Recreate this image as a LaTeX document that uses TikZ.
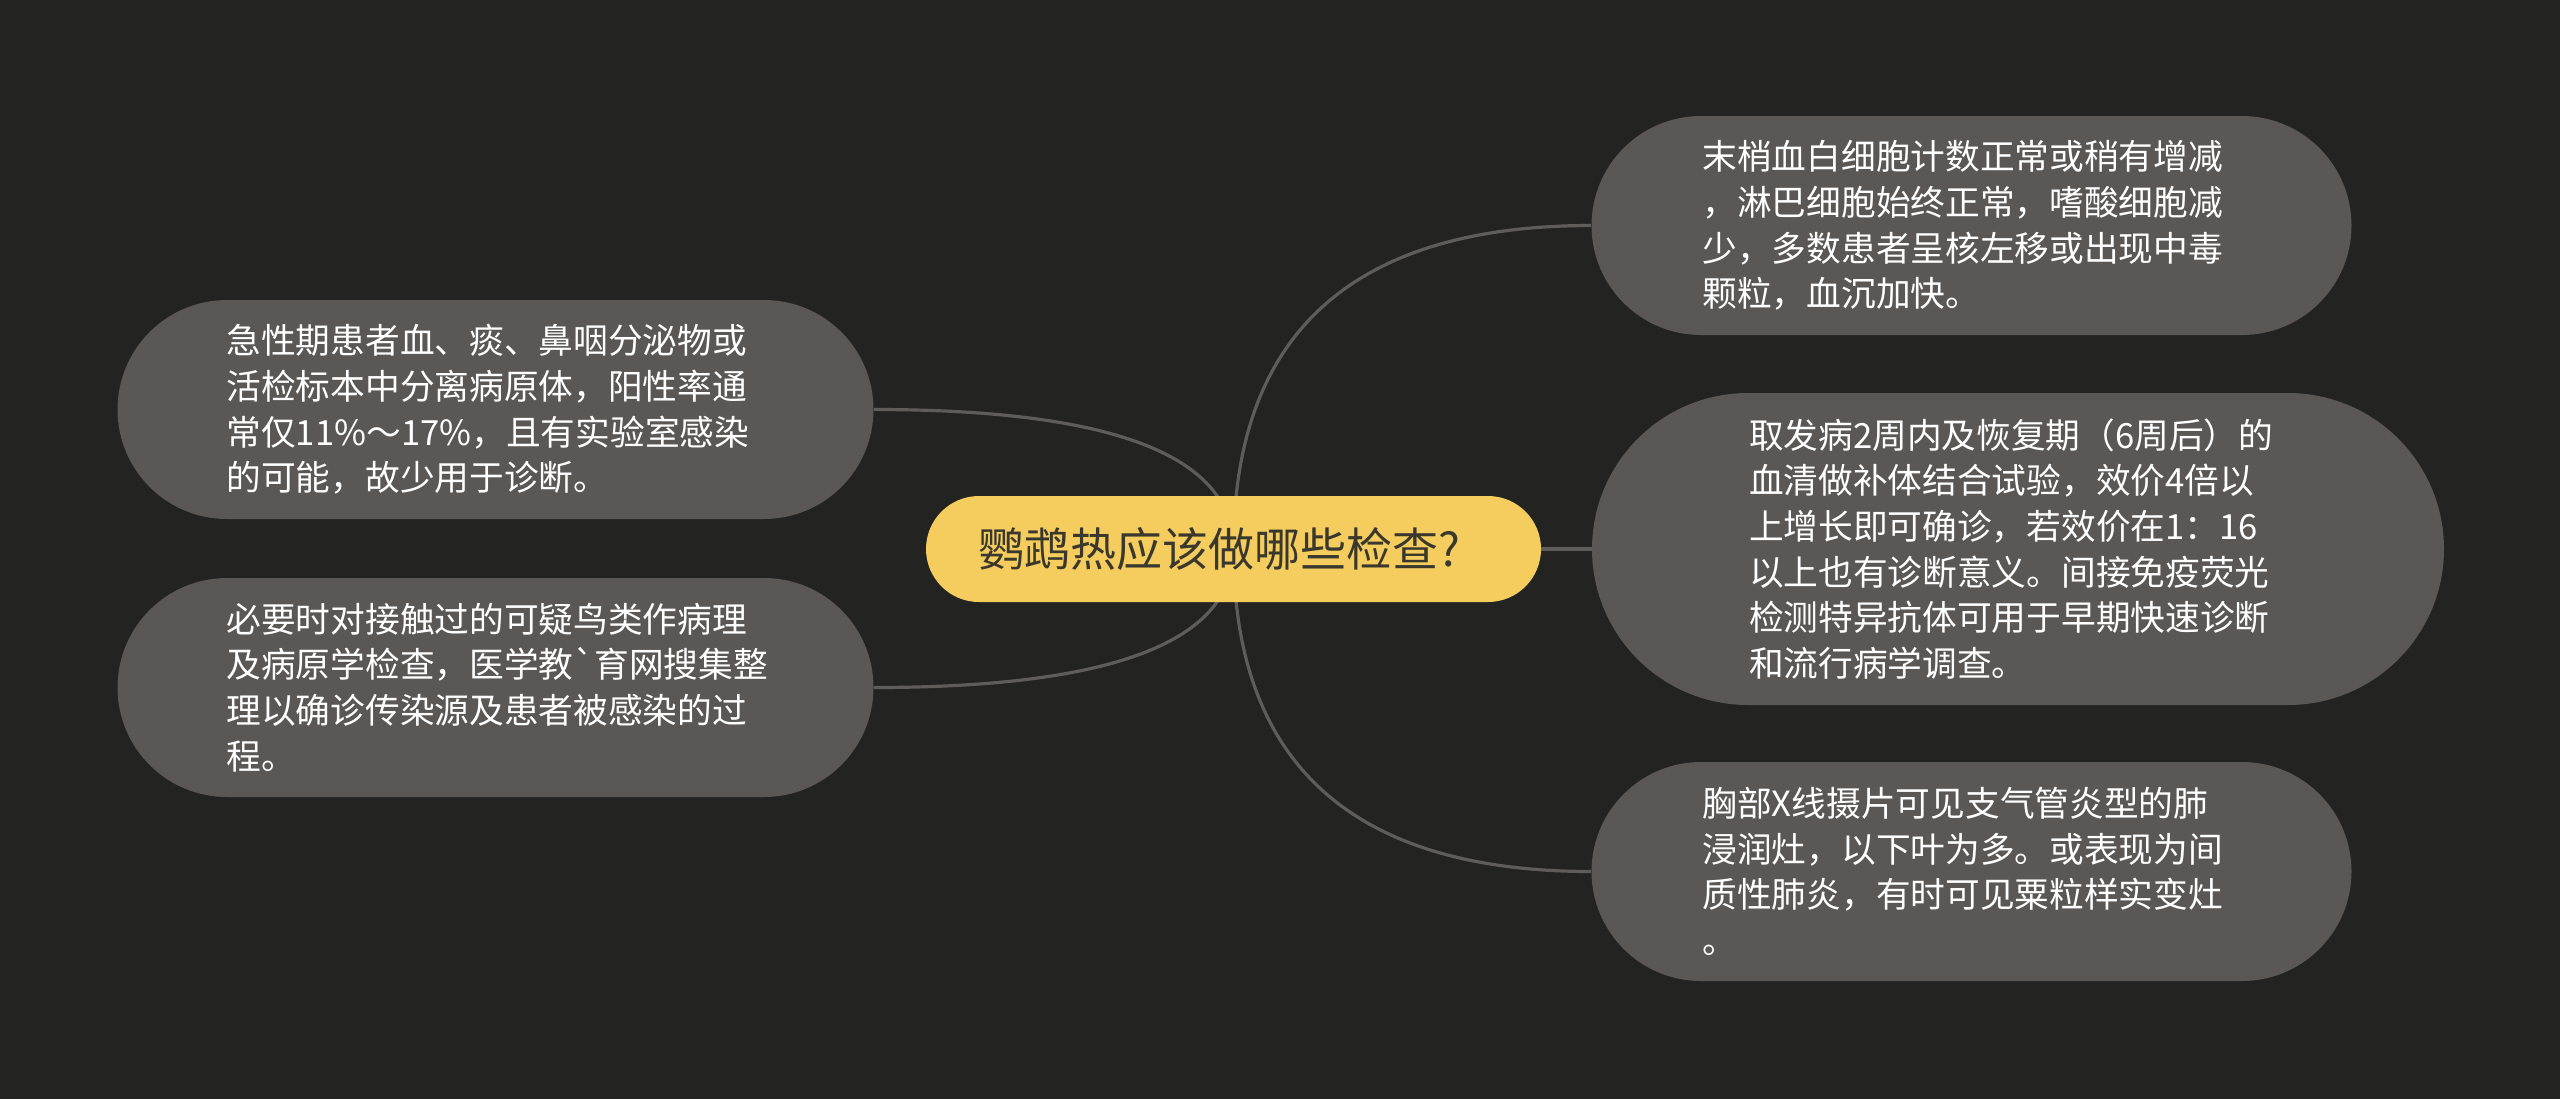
\documentclass[tikz,border=0pt]{standalone}
\usepackage{fontspec}
\newfontfamily\cjk{Noto Sans CJK SC}[Ligatures=TeXOff]
\usetikzlibrary{shapes.misc,calc,backgrounds}
\definecolor{bgcol}{HTML}{232321}
\definecolor{leafcol}{HTML}{5A5754}
\definecolor{rootcol}{HTML}{F5CD5E}
\definecolor{rootink}{HTML}{3A382C}
\definecolor{linkcol}{HTML}{5F5D5A}

\begin{document}
\begin{tikzpicture}[x=0.5pt,y=-0.5pt,
	leaf/.style={rounded rectangle,fill=leafcol,text=white,align=left,inner xsep=0pt,inner ysep=0pt,minimum height=109.5pt,minimum width=378pt,text width=269pt,font=\cjk\fontsize{17.35pt}{22.85pt}\selectfont},
	root/.style={rounded rectangle,fill=rootcol,text=rootink,align=left,inner sep=0pt,minimum height=53pt,minimum width=307.5pt,text width=255pt,font=\cjk\fontsize{23pt}{28pt}\selectfont},
	link/.style={draw=linkcol,line width=1.6pt,to path={.. controls ($(\tikztostart)!2/3!(\tikztostart |- \tikztotarget)$) and ($(\tikztotarget)!2/3!(\tikztostart |- \tikztotarget)$) .. (\tikztotarget)}}]
		
		\useasboundingbox (0,0) rectangle (2560,1099);
		
		\coordinate(C) at (1233.5, 549);
		\coordinate(L1) at (495.5, 409.5);
		\coordinate(L2) at (495.5, 687.5);
		\coordinate(R1) at (1971.5, 225.5);
		\coordinate(R2) at (2018, 549);
		\coordinate(R3) at (1971.5, 871.5);
		
		\node[root] (root) at (C) {鹦鹉热应该做哪些检查?};
		
		\node[leaf] (culture) at (L1) {急性期患者血、痰、鼻咽分泌物或\\活检标本中分离病原体，阳性率通\\常仅11\%～17\%，且有实验室感染\\的可能，故少用于诊断。};
		\node[leaf] (pathology) at (L2) {必要时对接触过的可疑鸟类作病理\\及病原学检查，医学教`育网搜集整\\理以确诊传染源及患者被感染的过\\程。};
		
		\node[leaf,minimum width=380pt] (blood) at (R1) {末梢血白细胞计数正常或稍有增减\\，淋巴细胞始终正常，嗜酸细胞减\\少，多数患者呈核左移或出现中毒\\颗粒，血沉加快。};
		\node[leaf,minimum width=426pt,minimum height=156pt] (serum) at (R2) {取发病2周内及恢复期（6周后）的\\血清做补体结合试验，效价4倍以\\上增长即可确诊，若效价在1：16\\以上也有诊断意义。间接免疫荧光\\检测特异抗体可用于早期快速诊断\\和流行病学调查。};
		\node[leaf,minimum width=380pt] (xray) at (R3) {胸部X线摄片可见支气管炎型的肺\\浸润灶，以下叶为多。或表现为间\\质性肺炎，有时可见粟粒样实变灶\\。};
		
		\begin{scope}[on background layer]
		\fill[bgcol] (0,0) rectangle (2560,1099);
		\draw[link] (root.center) to (culture.east);
		\draw[link] (root.center) to (pathology.east);
		\draw[link] (root.center) to (blood.west);
		\draw[link] (root.center) to (serum.west);
		\draw[link] (root.center) to (xray.west);
		\end{scope}

	\end{tikzpicture}
\end{document}
